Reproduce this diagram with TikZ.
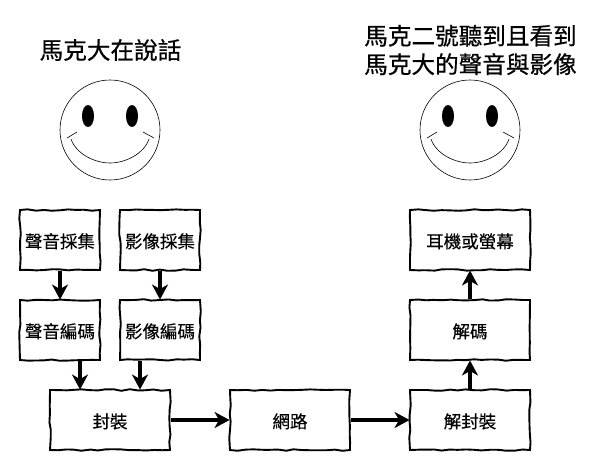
\documentclass[tikz,border=0pt]{standalone}
\usepackage{fontspec}
\setmainfont[FakeBold=0.25]{Noto Sans CJK TC}
\newfontfamily\titlefont[FakeBold=0.6]{Noto Sans CJK TC}
\usetikzlibrary{arrows.meta,decorations.pathmorphing}
\pgfmathsetseed{7}
\tikzset{
  box/.style={draw=black,fill=white,line width=1.9pt,line join=miter,decorate,
    decoration={random steps,segment length=8pt,amplitude=0.8pt},
    minimum height=60pt,inner sep=0pt,text height=18pt,text depth=2pt,font=\fontsize{17.5}{20}\selectfont},
  small/.style={box,minimum width=80pt},
  wide/.style={box,minimum width=120pt},
  flow/.style={line width=3.5pt,-{Stealth[length=15pt,width=16pt,inset=4.5pt]},shorten >=-0.5pt},
  title/.style={align=center,inner sep=0pt,font=\titlefont\fontsize{23.6}{28.5}\selectfont},
  face/.style={draw=black,line width=0.6pt},
  eye/.style={fill=black}
}
\newcommand{\smiley}[1]{%
  \begin{scope}[shift={(#1,130)}]
    \draw[face] (0,0) circle (50);
    \fill[eye] (-22,-14) ellipse (6 and 11);
    \fill[eye] (22,-14) ellipse (6 and 11);
    \draw[face] (-39,9) .. controls (-34,24) and (-15,33) .. (0,33) .. controls (15,33) and (34,24) .. (39,9);
    \draw[face] (-43,8) -- (-33,2);
    \draw[face] (33,2) -- (44,8);
  \end{scope}}
\begin{document}
\begin{tikzpicture}[x=1pt,y=-1pt]
\useasboundingbox (0,0) rectangle (591,471);
\smiley{110}
\smiley{470}
\node[title] (tl) at (110.5,50) {馬克大在說話};
\node[title] (tr) at (470.5,50) {馬克二號聽到且看到\\馬克大的聲音與影像};
\node[small] (acap) at (60,240) {聲音採集};
\node[small] (vcap) at (160,240) {影像採集};
\node[small] (aenc) at (60,330) {聲音編碼};
\node[small] (venc) at (160,330) {影像編碼};
\node[wide] (pack) at (110,420) {封裝};
\node[wide] (net) at (290,420) {網路};
\node[wide] (unpack) at (470,420) {解封裝};
\node[wide] (dec) at (470,330) {解碼};
\node[wide] (out) at (470,240) {耳機或螢幕};
\draw[flow] (acap) -- (aenc);
\draw[flow] (vcap) -- (venc);
\draw[flow] ([xshift=20pt]aenc.south) -- ([xshift=20pt]aenc.south |- pack.north);
\draw[flow] ([xshift=-20pt]venc.south) -- ([xshift=-20pt]venc.south |- pack.north);
\draw[flow] (pack) -- (net);
\draw[flow] (net) -- (unpack);
\draw[flow] (unpack) -- (dec);
\draw[flow] (dec) -- (out);
\end{tikzpicture}
\end{document}
